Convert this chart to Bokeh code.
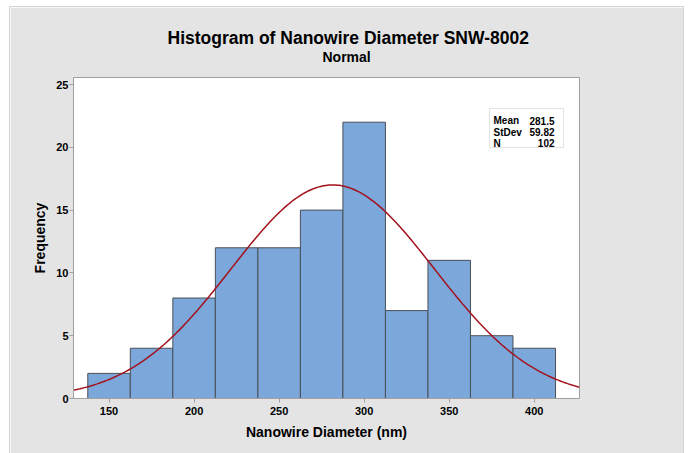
import numpy as np
from bokeh.plotting import figure
from bokeh.models import Label, BoxAnnotation, FixedTicker, Range1d, Title
from bokeh.embed import file_html
from bokeh.resources import INLINE

# ---- data ----
bin_centers = [150, 175, 200, 225, 250, 275, 300, 325, 350, 375, 400]
bin_counts = [2, 4, 8, 12, 12, 15, 22, 7, 11, 5, 4]
bin_width = 25
mean_val = 281.5
std_val = 59.82
n_val = 102
x_ticks = [150, 200, 250, 300, 350, 400]
y_ticks = [0, 5, 10, 15, 20, 25]
title_text = "Histogram of Nanowire Diameter SNW-8002"
subtitle_text = "Normal"
x_label = "Nanowire Diameter (nm)"
y_label = "Frequency"

FONT = "Liberation Sans"
BG = "#e4e4e4"

x_lo, x_hi = 129.1, 426.6
y_lo, y_hi = 0, 25.56

p = figure(width=673, height=446, output_backend="svg", toolbar_location=None,
           x_range=Range1d(x_lo, x_hi), y_range=Range1d(y_lo, y_hi),
           min_border_left=63, min_border_right=104, min_border_top=70, min_border_bottom=55)
p.margin = (7, 5, 0, 10)
p.styles = {"outline": "1px solid #d4d4d4"}
p.background_fill_color = "white"
p.border_fill_color = BG
p.outline_line_color = "#a0a0a0"
p.outline_line_width = 1
p.grid.visible = False

p.vbar(x=bin_centers, width=bin_width, top=bin_counts, bottom=0,
       fill_color="#7ba7da", line_color="#4a4f57", line_width=1)

# fitted normal curve from the summary statistics
xs = np.linspace(x_lo, x_hi, 300)
ys = n_val * bin_width / (std_val * np.sqrt(2 * np.pi)) * np.exp(-0.5 * ((xs - mean_val) / std_val) ** 2)
p.line(xs, ys, line_color="#a3121c", line_width=1.5)

for ax in (p.xaxis[0], p.yaxis[0]):
    ax.axis_line_color = "#a0a0a0"
    ax.major_tick_line_color = "#a0a0a0"
    ax.minor_tick_line_color = None
    ax.major_tick_in = 0
    ax.major_tick_out = 4
    ax.major_label_text_font = FONT
    ax.major_label_text_font_style = "bold"
    ax.major_label_text_font_size = "11px"
    ax.major_label_text_color = "black"
    ax.axis_label_text_font = FONT
    ax.axis_label_text_font_style = "bold"
    ax.axis_label_text_font_size = "14px"
    ax.axis_label_text_color = "black"

p.xaxis.ticker = FixedTicker(ticks=x_ticks)
p.yaxis.ticker = FixedTicker(ticks=y_ticks)
p.xaxis.axis_label = x_label
p.yaxis.axis_label = y_label
p.xaxis.major_label_standoff = 4
p.yaxis.major_label_standoff = 1
p.xaxis.axis_label_standoff = 6
p.yaxis.axis_label_standoff = 5

# titles (subtitle added first so it sits closest to the frame)
p.add_layout(Title(text=subtitle_text, align="left", offset=249, text_font=FONT,
                   text_font_style="bold", text_font_size="14px", text_color="black",
                   standoff=25), "above")
p.add_layout(Title(text=title_text, align="left", offset=94, text_font=FONT,
                   text_font_style="bold", text_font_size="17.5px", text_color="black",
                   standoff=-26), "above")

# statistics box (frame-relative screen coordinates)
p.add_layout(BoxAnnotation(left=416, right=490, top=290, bottom=251,
                           left_units="screen", right_units="screen",
                           top_units="screen", bottom_units="screen",
                           fill_color="white", fill_alpha=1.0,
                           line_color="#a0a0a0", line_width=1))
rows = [("Mean", f"{mean_val}"), ("StDev", f"{std_val}"), ("N", f"{n_val}")]
row_y = [277.7, 266.3, 255.3]
for (name, val), yy in zip(rows, row_y):
    p.add_layout(Label(x=420, y=yy, x_units="screen", y_units="screen", text=name,
                       text_align="left", text_baseline="alphabetic", text_font=FONT,
                       text_font_style="bold", text_font_size="10px", text_color="black"))
    p.add_layout(Label(x=481, y=yy, x_units="screen", y_units="screen", text=val,
                       text_align="right", text_baseline="alphabetic", text_font=FONT,
                       text_font_style="bold", text_font_size="10px", text_color="black"))

open("out.html", "w").write(file_html(p, INLINE))
